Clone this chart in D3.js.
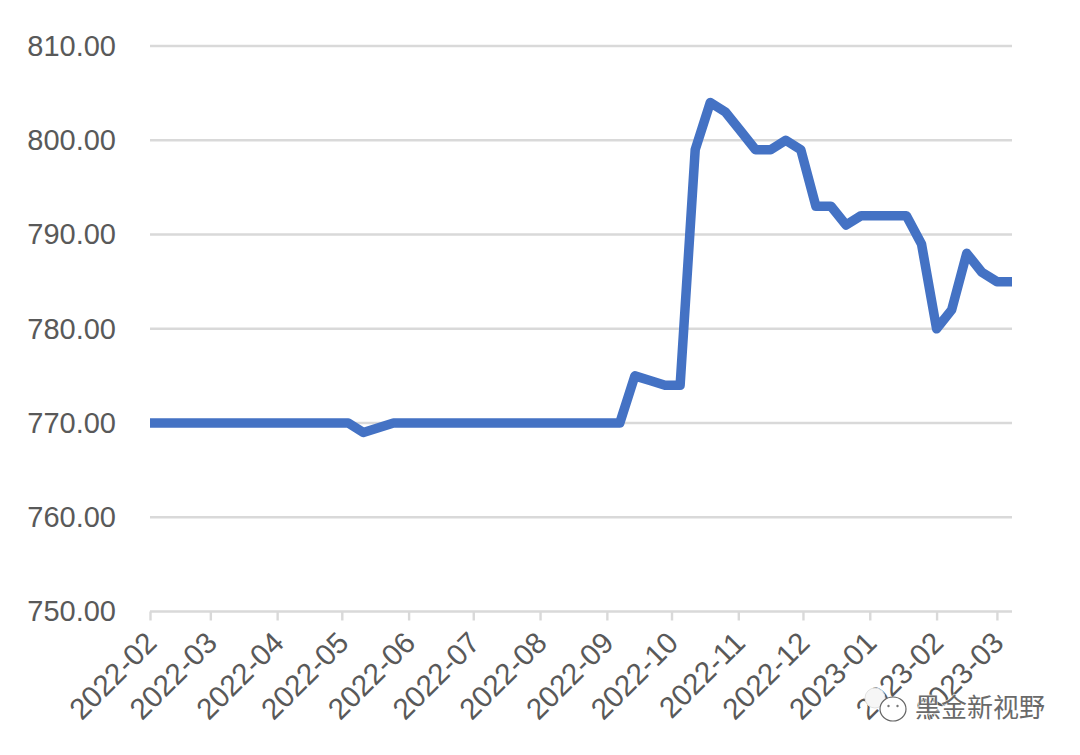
<!DOCTYPE html>
<html><head><meta charset="utf-8">
<script src="https://cdn.jsdelivr.net/npm/d3@7"></script>
<style>html,body{margin:0;padding:0;background:#fff;overflow:hidden}svg{display:block}</style>
</head><body><svg id="c" width="1080" height="755"></svg>
<script>
const dates = ["2022-02-01","2022-02-09","2022-02-16","2022-02-23","2022-03-02","2022-03-09","2022-03-16","2022-03-23","2022-03-30","2022-04-06","2022-04-13","2022-04-20","2022-04-27","2022-05-04","2022-05-11","2022-05-18","2022-05-25","2022-06-01","2022-06-08","2022-06-15","2022-06-22","2022-06-29","2022-07-06","2022-07-13","2022-07-20","2022-07-27","2022-08-03","2022-08-10","2022-08-17","2022-08-24","2022-08-31","2022-09-07","2022-09-14","2022-09-21","2022-09-28","2022-10-05","2022-10-12","2022-10-19","2022-10-26","2022-11-02","2022-11-09","2022-11-16","2022-11-23","2022-11-30","2022-12-07","2022-12-14","2022-12-21","2022-12-28","2023-01-04","2023-01-11","2023-01-18","2023-01-25","2023-02-01","2023-02-08","2023-02-15","2023-02-22","2023-03-01","2023-03-08"];
const values = [770,770,770,770,770,770,770,770,770,770,770,770,770,770,769,769.5,770,770,770,770,770,770,770,770,770,770,770,770,770,770,770,770,775,774.5,774,774,799,804,803,801,799,799,800,799,793,793,791,792,792,792,792,789,780,782,788,786,785,785];
const xTickLabels = ["2022-02","2022-03","2022-04","2022-05","2022-06","2022-07","2022-08","2022-09","2022-10","2022-11","2022-12","2023-01","2023-02","2023-03"];
const yTickValues = [750,760,770,780,790,800,810];

const parse = d3.utcParse("%Y-%m-%d"), parseM = d3.utcParse("%Y-%m");
const svg = d3.select("#c");
const font = "'Liberation Sans', Arial, sans-serif";
const x = d3.scaleUtc().domain([parse("2022-02-01"), parse("2023-03-08")]).range([150, 1012]);
const y = d3.scaleLinear().domain([750, 810]).range([611.5, 46]);

// grid
svg.append("g").selectAll("line").data(yTickValues.slice(1)).join("line")
  .attr("x1", 150).attr("x2", 1012).attr("y1", d => y(d)).attr("y2", d => y(d))
  .attr("stroke", "#d9d9d9").attr("stroke-width", 2.4);

// y labels
svg.append("g").selectAll("text").data(yTickValues).join("text")
  .attr("x", 116).attr("y", d => y(d) - 0.5).attr("dy", "0.355em").attr("text-anchor", "end")
  .attr("font-family", font).attr("font-size", 29).attr("fill", "#595959")
  .text(d => d3.format(".2f")(d));

// x axis
const ticks = xTickLabels.map(parseM);
const xAxis = d3.axisBottom(x).tickValues(ticks).tickFormat(d3.utcFormat("%Y-%m")).tickSize(9).tickPadding(0);
const gx = svg.append("g").attr("transform", "translate(0,611.5)").call(xAxis);
gx.select(".domain").attr("stroke", "#d9d9d9").attr("stroke-width", 2.4).attr("d", "M150,0H1012");
gx.selectAll(".tick line").attr("stroke", "#d9d9d9").attr("stroke-width", 2.4);
gx.selectAll(".tick text")
  .attr("font-family", font).attr("font-size", 29.6).attr("fill", "#595959")
  .attr("text-anchor", "end").attr("y", 0).attr("dy", 0)
  .attr("transform", "translate(8,33) rotate(-45)");

// line
const line = d3.line().x((d, i) => x(parse(dates[i]))).y(d => y(d));
svg.append("path").datum(values).attr("d", line).attr("fill", "none")
  .attr("stroke", "#4472c4").attr("stroke-width", 9.5).attr("stroke-linejoin", "round");

// watermark
const wm = svg.append("g");
wm.append("ellipse").attr("cx", 875).attr("cy", 698).attr("rx", 10).attr("ry", 10).attr("fill", "#f6f6f6").attr("stroke", "#e2e2e2").attr("stroke-width", 1);
wm.append("ellipse").attr("cx", 893).attr("cy", 709).attr("rx", 13).attr("ry", 12).attr("fill", "#fff").attr("stroke", "#666").attr("stroke-width", 1.2);
wm.selectAll("circle").data([-4.5, 4.5]).join("circle").attr("cx", d => 893 + d).attr("cy", 706).attr("r", 1.2).attr("fill", "#777");
wm.append("text").attr("x", 915).attr("y", 717).attr("font-family", "'Noto Sans CJK SC', sans-serif")
  .attr("font-size", 26).attr("fill", "#fff").attr("stroke", "#fff").attr("stroke-width", 1.5).attr("opacity", .8).text("黑金新视野");
wm.append("text").attr("x", 915).attr("y", 717).attr("font-family", "'Noto Sans CJK SC', sans-serif")
  .attr("font-size", 26).attr("fill", "#6a6a6a").text("黑金新视野");
</script></body></html>
